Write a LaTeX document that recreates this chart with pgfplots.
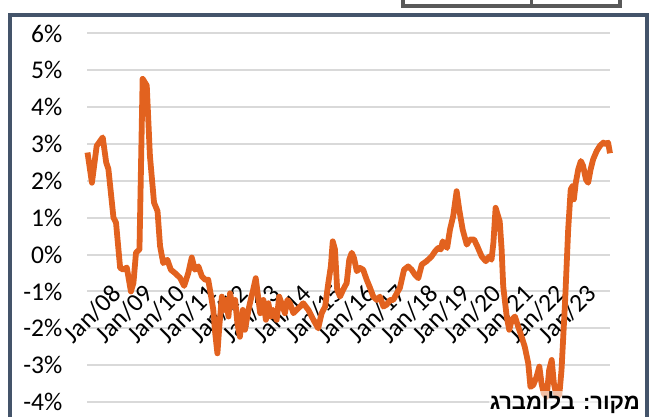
\documentclass[border=0pt]{standalone}
\usepackage{pgfplots}
\pgfplotsset{compat=1.18}
\usepackage{fontspec}
\setmainfont{Carlito}
\newfontfamily\hebfont[Script=Hebrew]{Liberation Sans}
\TeXXeTstate=1
\definecolor{lineor}{RGB}{226,98,31}
\definecolor{framec}{RGB}{68,84,106}
\definecolor{gridc}{RGB}{217,217,217}
\begin{document}
\begin{tikzpicture}
\useasboundingbox (0pt,0pt) rectangle (651pt,416pt);
% frame
\draw[framec, line width=3.5pt] (10pt,-20pt) -- (10pt,401pt) -- (647pt,401pt) -- (647pt,-20pt);
% cut-off title box
\draw[black!65, line width=4pt] (403pt,418pt) -- (403pt,410pt) -- (620pt,410pt) -- (620pt,418pt);
\draw[black!65, line width=3pt] (531pt,418pt) -- (531pt,410pt);
\begin{axis}[
  at={(87.5pt,14pt)}, anchor=south west,
  scale only axis, width=522.5pt, height=368.5pt,
  xmin=2007.35, xmax=2023.84, ymin=-4, ymax=6,
  axis line style={draw=none},
  major tick length=0pt,
  ymajorgrids, grid style={gridc, line width=2pt},
  ytick={-4,-3,...,6},
  yticklabels={-4\%,-3\%,-2\%,-1\%,0\%,1\%,2\%,3\%,4\%,5\%,6\%},
  yticklabel style={anchor=east, inner sep=0pt, xshift=-25pt},
  xtick={2008,2009,...,2023},
  xticklabels={Jan/08,Jan/09,Jan/10,Jan/11,Jan/12,Jan/13,Jan/14,Jan/15,Jan/16,Jan/17,Jan/18,Jan/19,Jan/20,Jan/21,Jan/22,Jan/23},
  xticklabel style={yshift=113pt, xshift=9pt, rotate=45, anchor=east, inner sep=0pt},
  every tick label/.append style={font=\fontsize{25.5}{30}\selectfont, text=black},
  clip=false,
]
\addplot[lineor, line width=5.8pt, line join=round] coordinates {
(2007.35,2.77) (2007.49,1.95) (2007.64,2.95) (2007.83,3.18) (2007.94,2.5) (2008.01,2.32)
(2008.17,1.0) (2008.25,0.87) (2008.38,-0.36) (2008.48,-0.41) (2008.59,-0.35) (2008.72,-1.0)
(2008.80,-0.77) (2008.88,0.05) (2008.99,0.14) (2009.09,4.77) (2009.22,4.59) (2009.32,2.68)
(2009.45,1.41) (2009.56,1.18) (2009.64,0.23) (2009.74,-0.23) (2009.87,-0.14) (2009.98,-0.41)
(2010.11,-0.5) (2010.27,-0.63) (2010.40,-0.85) (2010.53,-0.5) (2010.64,-0.08) (2010.74,-0.41)
(2010.85,-0.32) (2010.96,-0.59) (2011.06,-0.68) (2011.16,-0.68) (2011.27,-1.23) (2011.32,-1.5)
(2011.38,-2.13) (2011.45,-2.68) (2011.51,-1.95) (2011.59,-1.14) (2011.66,-1.5) (2011.72,-1.23)
(2011.80,-1.68) (2011.85,-1.05) (2011.93,-1.41) (2012.01,-1.23) (2012.08,-1.86) (2012.16,-2.23)
(2012.25,-1.5) (2012.32,-2.04) (2012.43,-1.5) (2012.50,-1.23) (2012.58,-0.95) (2012.66,-0.64)
(2012.72,-1.05) (2012.80,-1.59) (2012.90,-1.23) (2012.98,-1.77) (2013.06,-1.32) (2013.13,-1.68)
(2013.21,-1.5) (2013.32,-1.77) (2013.40,-1.14) (2013.51,-1.41) (2013.58,-1.59) (2013.66,-1.23)
(2013.74,-1.32) (2013.85,-1.59) (2013.95,-1.5) (2014.06,-1.41) (2014.16,-1.32) (2014.32,-1.5)
(2014.48,-1.77) (2014.63,-2.0) (2014.74,-1.59) (2014.85,-1.41) (2014.95,-0.77) (2015.03,-0.32)
(2015.09,0.36) (2015.16,0.14) (2015.23,-0.95) (2015.32,-1.14) (2015.42,-0.95) (2015.53,-0.77)
(2015.61,-0.14) (2015.69,0.05) (2015.76,-0.09) (2015.85,-0.45) (2015.95,-0.36) (2016.05,-0.41)
(2016.16,-0.68) (2016.27,-0.91) (2016.37,-1.14) (2016.48,-1.23) (2016.58,-1.14) (2016.69,-1.41)
(2016.79,-1.36) (2016.90,-1.23) (2017.00,-1.23) (2017.11,-1.05) (2017.21,-0.9) (2017.34,-0.41)
(2017.47,-0.32) (2017.58,-0.41) (2017.68,-0.54) (2017.79,-0.64) (2017.90,-0.27) (2018.05,-0.18)
(2018.21,-0.05) (2018.32,0.09) (2018.42,0.18) (2018.50,0.14) (2018.56,0.36) (2018.63,0.27)
(2018.70,0.18) (2018.79,0.68) (2018.89,1.04) (2019.00,1.72) (2019.08,1.23) (2019.19,0.68)
(2019.32,0.27) (2019.42,0.41) (2019.55,0.41) (2019.65,0.23) (2019.79,-0.05) (2019.92,-0.18)
(2020.03,-0.05) (2020.10,-0.14) (2020.16,0.32) (2020.23,1.27) (2020.31,1.04) (2020.36,0.9)
(2020.42,0.14) (2020.47,-0.86) (2020.58,-1.68) (2020.66,-2.04) (2020.74,-1.77) (2020.84,-1.68)
(2020.94,-1.95) (2021.05,-2.23) (2021.15,-2.5) (2021.26,-2.95) (2021.33,-3.59) (2021.42,-3.54)
(2021.52,-3.32) (2021.61,-3.04) (2021.68,-3.5) (2021.75,-3.77) (2021.84,-3.86) (2021.92,-3.13)
(2022.00,-2.86) (2022.07,-3.5) (2022.16,-3.86) (2022.24,-3.81) (2022.31,-3.13) (2022.42,-1.32)
(2022.52,0.68) (2022.60,1.77) (2022.66,1.86) (2022.70,1.5) (2022.76,1.95) (2022.84,2.32)
(2022.92,2.54) (2022.99,2.41) (2023.08,2.04) (2023.15,1.95) (2023.23,2.32) (2023.31,2.59)
(2023.42,2.81) (2023.52,2.95) (2023.63,3.04) (2023.71,3.0) (2023.78,3.04) (2023.84,2.75)
};
\end{axis}
\node[anchor=east, fill=white, fill opacity=0.6, text opacity=1, inner sep=1pt] at (641pt,13pt)
  {\hebfont\bfseries\fontsize{22}{26}\selectfont\beginR מקור: בלומברג\endR};
\end{tikzpicture}
\end{document}
